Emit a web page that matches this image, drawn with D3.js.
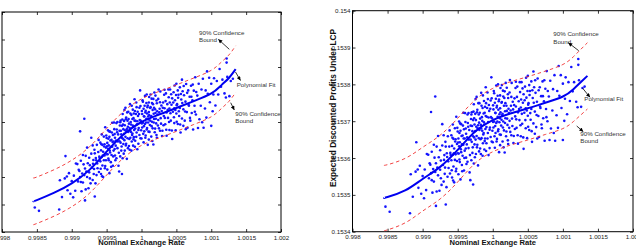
<!DOCTYPE html>
<html>
<head>
<meta charset="utf-8">
<script src="https://cdn.jsdelivr.net/npm/d3@7"></script>
<style>
  html, body { margin: 0; padding: 0; background: #fff; }
  svg { display: block; font-family: "Liberation Sans", Arial, Helvetica, sans-serif; }
</style>
</head>
<body>
<svg id="svg" width="636" height="251"></svg>
<script>
// tick labels
const rateTicks = [0.998, 0.9985, 0.999, 0.9995, 1, 1.0005, 1.001, 1.0015, 1.002];
const leftTicks = [0.1532, 0.1533, 0.1534, 0.1535, 0.1536, 0.1537, 0.1538, 0.1539, 0.154];
const lcpTicks = [0.1534, 0.1535, 0.1536, 0.1537, 0.1538, 0.1539, 0.154];

// simulated draws: nominal exchange rate (shared by both panels)
const exchangeRate = [
  0.99847, 0.99853, 0.99882, 0.99883,
  0.99886, 0.9989, 0.99891, 0.99893, 0.99894, 0.99896, 0.99898, 0.999, 0.99902, 0.99903, 0.99905, 0.99906, 0.99908, 0.99909, 0.9991,
  0.99911, 0.99912, 0.99912, 0.99913, 0.99913, 0.99914, 0.99915, 0.99916, 0.99916, 0.99917, 0.99918, 0.99918, 0.99919, 0.99919,
  0.9992, 0.9992, 0.99921, 0.99922, 0.99922, 0.99923, 0.99924, 0.99925, 0.99925, 0.99926, 0.99926, 0.99927, 0.99928, 0.99928,
  0.99929, 0.9993, 0.9993, 0.99931, 0.99932, 0.99933, 0.99933, 0.99934, 0.99935, 0.99936, 0.99937, 0.99938, 0.99939, 0.9994,
  0.99941, 0.99941, 0.99942, 0.99942, 0.99943, 0.99943, 0.99944, 0.99944, 0.99945, 0.99945, 0.99946, 0.99946, 0.99947, 0.99947,
  0.99948, 0.99948, 0.99949, 0.99949, 0.9995, 0.9995, 0.99951, 0.99951, 0.99952, 0.99952, 0.99953, 0.99953, 0.99954, 0.99954,
  0.99955, 0.99955, 0.99956, 0.99956, 0.99957, 0.99957, 0.99958, 0.99958, 0.99959, 0.99959, 0.9996, 0.9996, 0.99961, 0.99962,
  0.99962, 0.99963, 0.99964, 0.99964, 0.99965, 0.99966, 0.99967, 0.99968, 0.99969,
  0.9997, 0.9997, 0.99971, 0.99971, 0.99972, 0.99972, 0.99972, 0.99973, 0.99973, 0.99974, 0.99974, 0.99975, 0.99975, 0.99976,
  0.99976, 0.99977, 0.99977, 0.99978, 0.99978, 0.99979, 0.99979, 0.9998, 0.9998, 0.99981, 0.99981, 0.99982, 0.99982, 0.99983,
  0.99983, 0.99984, 0.99984, 0.99985, 0.99985, 0.99986, 0.99986, 0.99987, 0.99987, 0.99988, 0.99988, 0.99989, 0.99989, 0.9999,
  0.9999, 0.99991, 0.99991, 0.99992, 0.99993, 0.99993, 0.99994, 0.99994, 0.99995, 0.99996, 0.99997, 0.99997, 0.99998, 0.99999,
  1.0, 1.00001, 1.00001, 1.00002, 1.00002, 1.00003, 1.00003, 1.00004, 1.00004, 1.00005, 1.00005, 1.00006, 1.00006, 1.00007,
  1.00007, 1.00008, 1.00008, 1.00009, 1.00009, 1.0001, 1.0001, 1.00011, 1.00011, 1.00012, 1.00013, 1.00013, 1.00014, 1.00014,
  1.00015, 1.00015, 1.00016, 1.00016, 1.00017, 1.00017, 1.00018, 1.00018, 1.00019, 1.0002, 1.0002, 1.00021, 1.00022, 1.00022,
  1.00023, 1.00024, 1.00024, 1.00025, 1.00026, 1.00027, 1.00028, 1.00029,
  1.0003, 1.00031, 1.00032, 1.00033, 1.00033, 1.00034, 1.00035, 1.00036, 1.00036, 1.00037, 1.00038, 1.00039, 1.0004, 1.0004,
  1.00041, 1.00042, 1.00043, 1.00044, 1.00044, 1.00045, 1.00046, 1.00047, 1.00047, 1.00048, 1.00049, 1.0005, 1.0005, 1.00051,
  1.00052, 1.00052, 1.00053, 1.00054, 1.00055, 1.00055, 1.00056, 1.00057, 1.00058, 1.00058, 1.00059, 1.0006, 1.0006,
  1.00061, 1.00062, 1.00063, 1.00064, 1.00065, 1.00066, 1.00067, 1.00068, 1.00069, 1.0007, 1.00071, 1.00072, 1.00073, 1.00074,
  1.00075, 1.00076, 1.00077, 1.00078, 1.0008, 1.00081, 1.00082, 1.00083, 1.00085, 1.00086, 1.00087, 1.00088, 1.00089,
  1.00091, 1.00092, 1.00093, 1.00094, 1.00095, 1.00097, 1.00098, 1.001, 1.001, 1.00102, 1.00103, 1.00104, 1.00106, 1.00108,
  1.0011, 1.00112, 1.00114, 1.00116, 1.00119, 1.00121, 1.00123, 1.00126, 1.00128, 1.00131, 1.00122, 1.00122,
  // dense core
  0.999305, 0.999315, 0.999325, 0.999345, 0.999355, 0.999365, 0.999385, 0.999395, 0.999415, 0.999425, 0.999435, 0.999445, 0.999465, 0.999475, 0.999495,
  0.999505, 0.999515, 0.999525, 0.999525, 0.999535, 0.999545, 0.999555, 0.999565, 0.999575, 0.999585, 0.999595, 0.999605, 0.999615, 0.999615, 0.999625,
  0.999635, 0.999645, 0.999655, 0.999655, 0.999665, 0.999675, 0.999685, 0.999685, 0.999695, 0.999695,
  0.999705, 0.999715, 0.999725, 0.999735, 0.999735, 0.999745, 0.999755, 0.999755, 0.999765, 0.999775, 0.999775, 0.999785, 0.999795, 0.999805, 0.999805,
  0.999815, 0.999825, 0.999835, 0.999835, 0.999845, 0.999855, 0.999855, 0.999865, 0.999875, 0.999875, 0.999885, 0.999885, 0.999895, 0.999905, 0.999905,
  0.999915, 0.999925, 0.999925, 0.999935, 0.999945, 0.999955, 0.999955, 0.999965, 0.999975, 0.999985, 0.999985, 0.999995, 1.000005, 1.000005, 1.000015,
  1.000025, 1.000035, 1.000035, 1.000045, 1.000055, 1.000055, 1.000065, 1.000075, 1.000075, 1.000085, 1.000095, 1.000095, 1.000105, 1.000105, 1.000105,
  1.000115, 1.000125, 1.000125, 1.000135, 1.000145, 1.000145, 1.000155, 1.000165, 1.000175, 1.000175, 1.000185, 1.000195, 1.000195, 1.000205, 1.000215,
  1.000215, 1.000225, 1.000235, 1.000245, 1.000255, 1.000265, 1.000265, 1.000275, 1.000285, 1.000295,
  1.000305, 1.000315, 1.000325, 1.000335, 1.000345, 1.000355, 1.000375, 1.000385, 1.000395, 1.000405, 1.000415, 1.000425, 1.000435, 1.000455, 1.000465,
  1.000475, 1.000485, 1.000495, 1.000505, 1.000505,
  1.000525, 1.000535, 1.000555, 1.000565, 1.000585, 1.000605, 1.000625, 1.000635, 1.000655, 1.000675, 1.000695, 1.000715, 1.000735, 1.000765, 1.000785
];

// expected discounted profits, left panel
const profitsLeft = [
  0.153289, 0.153277, 0.153282, 0.153388,
  0.153327, 0.153395, 0.153476, 0.153402, 0.153352, 0.153414, 0.153339, 0.153385, 0.153326, 0.153405, 0.15335, 0.153449, 0.153447, 0.153384, 0.153426,
  0.153422, 0.153566, 0.1534, 0.153459, 0.153382, 0.153348, 0.153413, 0.15348, 0.15338, 0.153446, 0.153612, 0.153407, 0.153315, 0.153431,
  0.153477, 0.153355, 0.15342, 0.153507, 0.1534, 0.15345, 0.153359, 0.15347, 0.153417, 0.153443, 0.153395, 0.153377, 0.153543, 0.153485,
  0.153434, 0.153515, 0.153389, 0.153462, 0.153429, 0.153329, 0.153486, 0.153377, 0.153461, 0.153517, 0.153432, 0.153491, 0.153418, 0.153469,
  0.153525, 0.153457, 0.153497, 0.153411, 0.153555, 0.153473, 0.153442, 0.153517, 0.153492, 0.1534, 0.153547, 0.153461, 0.153519, 0.153478,
  0.15344, 0.153581, 0.153507, 0.153461, 0.153542, 0.153483, 0.153427, 0.153524, 0.153503, 0.15357, 0.153461, 0.153515, 0.153414, 0.153546,
  0.153489, 0.153565, 0.15351, 0.153454, 0.153535, 0.15348, 0.153597, 0.15351, 0.153441, 0.153553, 0.153529, 0.153496, 0.153574, 0.153478,
  0.153543, 0.153514, 0.153596, 0.153468, 0.153563, 0.153529, 0.153441, 0.15342, 0.153587,
  0.153525, 0.153605, 0.153555, 0.153496, 0.153586, 0.153411, 0.153542, 0.153468, 0.153629, 0.153574, 0.15352, 0.153604, 0.153557, 0.153496,
  0.153588, 0.153546, 0.153652, 0.153616, 0.153521, 0.153575, 0.153466, 0.153605, 0.153541, 0.153637, 0.153564, 0.153513, 0.153594, 0.153578,
  0.153499, 0.153631, 0.153543, 0.153591, 0.153564, 0.153659, 0.153529, 0.153611, 0.153558, 0.153582, 0.153514, 0.153631, 0.153545, 0.153605,
  0.153683, 0.153576, 0.153532, 0.153629, 0.153562, 0.153654, 0.153603, 0.153501, 0.153622, 0.153578, 0.153652, 0.153553, 0.153715, 0.153604,
  0.15354, 0.153629, 0.15358, 0.153674, 0.153597, 0.153526, 0.153648, 0.15362, 0.153566, 0.153695, 0.153593, 0.153641, 0.153551, 0.153612,
  0.153669, 0.153578, 0.153631, 0.153517, 0.15366, 0.153609, 0.153565, 0.153691, 0.153625, 0.153589, 0.1537, 0.153654, 0.153547, 0.153622,
  0.153601, 0.153669, 0.153577, 0.153644, 0.153518, 0.153684, 0.153611, 0.153652, 0.153563, 0.153633, 0.153696, 0.153595, 0.153668, 0.153543,
  0.153627, 0.153607, 0.153684, 0.153577, 0.153648, 0.153711, 0.153594, 0.15364,
  0.153568, 0.153671, 0.153622, 0.15365, 0.153717, 0.153592, 0.153704, 0.153635, 0.15355, 0.153665, 0.153615, 0.15369, 0.153571, 0.153649,
  0.153718, 0.153605, 0.153663, 0.153538, 0.153686, 0.153637, 0.153708, 0.153596, 0.15365, 0.153679, 0.15357, 0.153631, 0.153739, 0.153665,
  0.153593, 0.153715, 0.153699, 0.153622, 0.153651, 0.153726, 0.153562, 0.153682, 0.153613, 0.153754, 0.153712, 0.153646, 0.153586,
  0.153697, 0.153605, 0.153674, 0.153738, 0.153636, 0.153579, 0.153715, 0.153659, 0.153692, 0.153605, 0.153732, 0.153633, 0.153679, 0.153573,
  0.153714, 0.153659, 0.153763, 0.153627, 0.153696, 0.153578, 0.153739, 0.15361, 0.153659, 0.153718, 0.153599, 0.153757, 0.153579,
  0.153649, 0.153715, 0.153616, 0.153784, 0.153703, 0.153761, 0.153672, 0.153739, 0.153586, 0.153639, 0.1537, 0.153759, 0.15366, 0.153749,
  0.1537, 0.153793, 0.153728, 0.153754, 0.153704, 0.153689, 0.153764, 0.153694, 0.153749, 0.153757, 0.153831, 0.153816,
  // dense core
  0.153448, 0.153411, 0.153499, 0.153469, 0.153407, 0.153449, 0.153535, 0.153474, 0.15343, 0.153519, 0.153403, 0.153478, 0.153511, 0.153432, 0.153551,
  0.153512, 0.153483, 0.153539, 0.153467, 0.153566, 0.153496, 0.153533, 0.153437, 0.153562, 0.153527, 0.153475, 0.153598, 0.153502, 0.153556, 0.153461,
  0.153533, 0.153573, 0.153505, 0.1536, 0.153555, 0.153488, 0.153568, 0.15353, 0.153599, 0.153475,
  0.153568, 0.153511, 0.153609, 0.153539, 0.153591, 0.153485, 0.153644, 0.153534, 0.15357, 0.15361, 0.153515, 0.153566, 0.153635, 0.153505, 0.153583,
  0.153611, 0.153538, 0.153568, 0.153665, 0.1536, 0.153496, 0.153626, 0.153553, 0.153587, 0.153645, 0.153537, 0.153614, 0.153571, 0.15364, 0.15351,
  0.153604, 0.153546, 0.153671, 0.153592, 0.153637, 0.153571, 0.153521, 0.153629, 0.153607, 0.153541, 0.153658, 0.15357, 0.15364, 0.153595, 0.153679,
  0.153557, 0.153621, 0.153585, 0.153659, 0.153543, 0.153635, 0.153598, 0.153573, 0.1537, 0.153654, 0.153598, 0.15362, 0.153536, 0.153671, 0.153636,
  0.153564, 0.153651, 0.153605, 0.153619, 0.153585, 0.153685, 0.153531, 0.153665, 0.15363, 0.153598, 0.153707, 0.153576, 0.153646, 0.153612, 0.153678,
  0.153553, 0.153639, 0.153587, 0.153718, 0.153635, 0.153568, 0.153672, 0.153614, 0.15366, 0.153549,
  0.153652, 0.153588, 0.153699, 0.153615, 0.153676, 0.153572, 0.153644, 0.153718, 0.1536, 0.153671, 0.153632, 0.153701, 0.153569, 0.153671, 0.153617,
  0.153733, 0.153644, 0.153698, 0.153601, 0.153661,
  0.153688, 0.153639, 0.153591, 0.153702, 0.153669, 0.153731, 0.153638, 0.153574, 0.153706, 0.153663, 0.153615, 0.153692, 0.153736, 0.153637, 0.153709
];

// expected discounted profits under LCP, right panel
const profitsLCP = [
  0.153468, 0.153454, 0.15345, 0.153556,
  0.153495, 0.153563, 0.153643, 0.153569, 0.153519, 0.153579, 0.153503, 0.153551, 0.153491, 0.153569, 0.153513, 0.153611, 0.153609, 0.153545, 0.153586,
  0.153582, 0.153725, 0.153559, 0.153617, 0.15354, 0.153506, 0.15357, 0.153636, 0.153536, 0.153601, 0.153767, 0.153562, 0.15347, 0.153586,
  0.153631, 0.153509, 0.153574, 0.15366, 0.153553, 0.153602, 0.153511, 0.153621, 0.153568, 0.153593, 0.153545, 0.153527, 0.153692, 0.153634,
  0.153581, 0.153662, 0.153536, 0.153608, 0.153574, 0.153474, 0.153631, 0.153521, 0.153603, 0.153659, 0.153573, 0.153631, 0.153558, 0.153608,
  0.153662, 0.153594, 0.153633, 0.153547, 0.153691, 0.153609, 0.153577, 0.153652, 0.153626, 0.153534, 0.153681, 0.153595, 0.153651, 0.15361,
  0.153571, 0.153712, 0.153638, 0.153592, 0.153672, 0.153613, 0.153556, 0.153653, 0.153632, 0.153699, 0.153589, 0.153643, 0.153542, 0.153674,
  0.153616, 0.153692, 0.153637, 0.153581, 0.153661, 0.153606, 0.153723, 0.153636, 0.153566, 0.153678, 0.153653, 0.15362, 0.153698, 0.153601,
  0.153666, 0.153637, 0.153718, 0.15359, 0.153685, 0.15365, 0.153561, 0.15354, 0.153706,
  0.153644, 0.153724, 0.153673, 0.153614, 0.153703, 0.153528, 0.153659, 0.153585, 0.153746, 0.153691, 0.153637, 0.15372, 0.153673, 0.153611,
  0.153703, 0.15366, 0.153766, 0.153731, 0.153636, 0.153689, 0.15358, 0.153718, 0.153654, 0.153749, 0.153676, 0.153626, 0.153707, 0.15369,
  0.153611, 0.153742, 0.153654, 0.153701, 0.153674, 0.15377, 0.15364, 0.153721, 0.153668, 0.153691, 0.153623, 0.153739, 0.153653, 0.153714,
  0.153792, 0.153684, 0.15364, 0.153736, 0.153668, 0.15376, 0.15371, 0.153608, 0.153728, 0.153683, 0.153756, 0.153657, 0.153819, 0.153708,
  0.153643, 0.153732, 0.153683, 0.153776, 0.153699, 0.153628, 0.15375, 0.153722, 0.153668, 0.153797, 0.153695, 0.153742, 0.153652, 0.153712,
  0.153769, 0.153678, 0.153731, 0.153616, 0.153759, 0.153708, 0.153664, 0.15379, 0.153724, 0.153688, 0.153798, 0.153752, 0.153645, 0.15372,
  0.153699, 0.153767, 0.153675, 0.153742, 0.153615, 0.153781, 0.153708, 0.153749, 0.153659, 0.153728, 0.153791, 0.15369, 0.153763, 0.153638,
  0.153722, 0.153701, 0.153778, 0.153671, 0.153742, 0.153804, 0.153687, 0.153732,
  0.15366, 0.153762, 0.153713, 0.15374, 0.153807, 0.153682, 0.153794, 0.153724, 0.153639, 0.153754, 0.153703, 0.153779, 0.153659, 0.153737,
  0.153806, 0.153693, 0.15375, 0.153625, 0.153773, 0.153723, 0.153794, 0.153681, 0.153735, 0.153764, 0.153654, 0.153715, 0.153823, 0.153749,
  0.153676, 0.153798, 0.153782, 0.153704, 0.153733, 0.153808, 0.153644, 0.153763, 0.153694, 0.153835, 0.153792, 0.153726, 0.153666,
  0.153777, 0.153684, 0.153753, 0.153816, 0.153714, 0.153657, 0.153792, 0.153736, 0.153768, 0.153681, 0.153808, 0.153708, 0.153754, 0.153647,
  0.153788, 0.153733, 0.153836, 0.1537, 0.153767, 0.153649, 0.15381, 0.15368, 0.153729, 0.153787, 0.153668, 0.153825, 0.153647,
  0.153716, 0.153782, 0.153682, 0.15385, 0.153769, 0.153825, 0.153736, 0.153802, 0.153649, 0.153701, 0.153761, 0.153819, 0.153719, 0.153806,
  0.153755, 0.153847, 0.153781, 0.153806, 0.153753, 0.153738, 0.153811, 0.153739, 0.15379, 0.153794, 0.153869, 0.153853,
  // dense core
  0.153595, 0.153557, 0.153644, 0.153613, 0.153549, 0.153591, 0.153675, 0.153614, 0.153567, 0.153655, 0.153539, 0.153613, 0.153645, 0.153564, 0.153682,
  0.153642, 0.153612, 0.153668, 0.153596, 0.153694, 0.153624, 0.15366, 0.153564, 0.153688, 0.153653, 0.1536, 0.153722, 0.153626, 0.15368, 0.153584,
  0.153656, 0.153695, 0.153627, 0.153722, 0.153676, 0.153608, 0.153688, 0.15365, 0.153718, 0.153594,
  0.153687, 0.153629, 0.153726, 0.153656, 0.153708, 0.153602, 0.15376, 0.15365, 0.153685, 0.153724, 0.153629, 0.153681, 0.153749, 0.153618, 0.153696,
  0.153723, 0.153651, 0.15368, 0.153777, 0.153711, 0.153606, 0.153736, 0.153664, 0.153697, 0.153755, 0.153646, 0.153723, 0.153679, 0.153749, 0.153619,
  0.153712, 0.153653, 0.153778, 0.153698, 0.153744, 0.153677, 0.153627, 0.153734, 0.153711, 0.153645, 0.153762, 0.153674, 0.153743, 0.153698, 0.153782,
  0.153659, 0.153723, 0.153687, 0.153761, 0.153645, 0.153737, 0.153699, 0.153673, 0.1538, 0.153754, 0.153697, 0.153719, 0.153635, 0.15377, 0.153735,
  0.153663, 0.15375, 0.153704, 0.153717, 0.153683, 0.153783, 0.153629, 0.153763, 0.153727, 0.153695, 0.153804, 0.153672, 0.153742, 0.153707, 0.153773,
  0.153648, 0.153734, 0.153682, 0.153812, 0.153729, 0.153662, 0.153766, 0.153707, 0.153753, 0.153641,
  0.153744, 0.153679, 0.15379, 0.153705, 0.153766, 0.153662, 0.153733, 0.153806, 0.153689, 0.153759, 0.15372, 0.153789, 0.153656, 0.153757, 0.153703,
  0.153818, 0.153729, 0.153782, 0.153685, 0.153745,
  0.153771, 0.153722, 0.153673, 0.153784, 0.15375, 0.153811, 0.153717, 0.153653, 0.153784, 0.15374, 0.153691, 0.153768, 0.153811, 0.153711, 0.153782
];

// polynomial fit and 90% confidence bounds
const fitRate = [0.99845, 0.9985, 0.99875, 0.999, 0.99925, 0.9995, 0.99975, 1.0, 1.00025, 1.0005, 1.00075, 1.001, 1.00115, 1.00125, 1.00135];
const fitLeft = [0.153312, 0.153316, 0.153343, 0.153377, 0.153425, 0.153492, 0.153556, 0.1536, 0.153627, 0.153651, 0.153676, 0.153704, 0.153735, 0.153759, 0.153792];
const upperLeft = [0.153397, 0.1534, 0.153427, 0.153461, 0.153509, 0.153576, 0.15364, 0.153684, 0.153711, 0.153735, 0.15376, 0.153788, 0.153819, 0.153843, 0.153877];
const lowerLeft = [0.153227, 0.153231, 0.153258, 0.153292, 0.15334, 0.153407, 0.153471, 0.153515, 0.153542, 0.153566, 0.153591, 0.153619, 0.15365, 0.153674, 0.153707];
const fitLCP = [0.153492, 0.153494, 0.153512, 0.153543, 0.153576, 0.153622, 0.153672, 0.153703, 0.153721, 0.153735, 0.15375, 0.153767, 0.153787, 0.153805, 0.153823];
const upperLCP = [0.153581, 0.153582, 0.153599, 0.153629, 0.153662, 0.153708, 0.153758, 0.153789, 0.153807, 0.153821, 0.153836, 0.153854, 0.153875, 0.153894, 0.153913];
const lowerLCP = [0.153403, 0.153405, 0.153424, 0.153456, 0.153489, 0.153535, 0.153586, 0.153617, 0.153635, 0.153649, 0.153664, 0.15368, 0.153699, 0.153716, 0.153733];

const svg = d3.select("#svg");
const tickFmt = d => String(+d.toFixed(5));

svg.append("defs").append("marker")
  .attr("id", "head")
  .attr("viewBox", "0 0 10 10")
  .attr("refX", 10).attr("refY", 5)
  .attr("markerWidth", 5).attr("markerHeight", 4)
  .attr("markerUnits", "userSpaceOnUse")
  .attr("orient", "auto")
  .append("path").attr("d", "M0,0L10,5L0,10z").attr("fill", "#000");

function styleAxis(g, hideText) {
  g.attr("font-size", null).attr("font-family", null);
  g.select(".domain").remove();
  g.selectAll(".tick line").attr("stroke", "#000").attr("stroke-width", 0.8);
  g.selectAll(".tick text").attr("fill", "#222").style("font-size", "6.2px");
  if (hideText) g.selectAll(".tick text").remove();
}

function drawPanel(p) {
  const x = d3.scaleLinear().domain([0.998, 1.002]).range(p.xRange);
  const y = d3.scaleLinear().domain(p.yDomain).range(p.yRange);
  const [x0, x1] = p.xRange, [y0, y1] = p.yRange;
  const g = svg.append("g");

  g.append("g").attr("transform", `translate(0,${y0})`)
    .call(d3.axisBottom(x).tickValues(rateTicks).tickFormat(tickFmt).tickSizeInner(-3).tickSizeOuter(0).tickPadding(3.3))
    .call(a => styleAxis(a, false));
  g.append("g").attr("transform", `translate(0,${y1})`)
    .call(d3.axisTop(x).tickValues(rateTicks).tickSizeInner(-3).tickSizeOuter(0))
    .call(a => styleAxis(a, true));
  // the left panel's y labels fall outside the picture
  g.append("g").attr("transform", `translate(${x0},0)`)
    .call(d3.axisLeft(y).tickValues(p.yTicks).tickFormat(tickFmt).tickSizeInner(-3).tickSizeOuter(0).tickPadding(2))
    .call(a => styleAxis(a, !p.yLabels));
  g.append("g").attr("transform", `translate(${x1},0)`)
    .call(d3.axisRight(y).tickValues(p.yTicks).tickSizeInner(-3).tickSizeOuter(0))
    .call(a => styleAxis(a, true));

  g.append("rect")
    .attr("x", x0).attr("y", y1)
    .attr("width", x1 - x0).attr("height", y0 - y1)
    .attr("fill", "none").attr("stroke", "#000").attr("stroke-width", 1);

  // scatter
  g.append("g").selectAll("circle")
    .data(d3.range(exchangeRate.length))
    .join("circle")
    .attr("cx", i => x(exchangeRate[i]))
    .attr("cy", i => y(p.profits[i]))
    .attr("r", 1.3)
    .attr("fill", "#1414ff");

  const line = arr => d3.line()
    .x((d, i) => x(fitRate[i]))
    .y(d => y(d))
    .curve(d3.curveNatural)(arr);

  [p.upper, p.lower].forEach(arr => {
    g.append("path").attr("d", line(arr))
      .attr("fill", "none").attr("stroke", "#f03030")
      .attr("stroke-width", 0.9).attr("stroke-dasharray", "3.5,2.8");
  });
  g.append("path").attr("d", line(p.fit))
    .attr("fill", "none").attr("stroke", "#0000f0").attr("stroke-width", 2);

  // axis titles
  g.append("text")
    .attr("x", (x0 + x1) / 2).attr("y", 245.3)
    .attr("text-anchor", "middle")
    .style("font-size", "7.6px").style("font-weight", "bold").attr("fill", "#111")
    .text("Nominal Exchange Rate");
  if (p.yTitle) {
    g.append("text")
      .attr("transform", `translate(${p.yTitle.x},${p.yTitle.y}) rotate(-90)`)
      .attr("text-anchor", "middle")
      .style("font-size", "8.3px").style("font-weight", "bold").attr("fill", "#111")
      .text(p.yTitle.text);
  }

  // annotations
  p.notes.forEach(n => {
    const t = g.append("text").attr("fill", "#333").style("font-size", "6.2px");
    n.lines.forEach((s, k) => {
      t.append("tspan").attr("x", n.tx).attr("y", n.ty + k * 7.3).text(s);
    });
    g.append("line")
      .attr("x1", n.from[0]).attr("y1", n.from[1])
      .attr("x2", n.to[0]).attr("y2", n.to[1])
      .attr("stroke", "#000").attr("stroke-width", 0.8)
      .attr("marker-end", "url(#head)");
  });
}

drawPanel({
  xRange: [2, 281], yRange: [232, 12],
  yDomain: [0.1532, 0.154], yTicks: leftTicks, yLabels: false,
  profits: profitsLeft, fit: fitLeft, upper: upperLeft, lower: lowerLeft,
  notes: [
    {lines: ["90% Confidence", "Bound"], tx: 199, ty: 34.5, from: [229.3, 49.3], to: [218.3, 39.3]},
    {lines: ["Polynomial Fit"], tx: 236.7, ty: 86.5, from: [235.5, 72], to: [240.5, 80.5]},
    {lines: ["90% Confidence", "Bound"], tx: 235.3, ty: 116, from: [230.7, 102.7], to: [234.3, 110]}
  ]
});

drawPanel({
  xRange: [352.5, 633], yRange: [231.7, 10.7],
  yDomain: [0.1534, 0.154], yTicks: lcpTicks, yLabels: true,
  profits: profitsLCP, fit: fitLCP, upper: upperLCP, lower: lowerLCP,
  yTitle: {text: "Expected Discounted Profits Under LCP", x: 336.2, y: 108},
  notes: [
    {lines: ["90% Confidence", "Bound"], tx: 553.3, ty: 36.2, from: [578.7, 50.7], to: [568.3, 42.7]},
    {lines: ["Polynomial Fit"], tx: 584.3, ty: 101, from: [582.7, 88.3], to: [590, 97.3]},
    {lines: ["90% Confidence", "Bound"], tx: 580.3, ty: 135.5, from: [576.7, 126], to: [583.3, 131.7]}
  ]
});
</script>
</body>
</html>
